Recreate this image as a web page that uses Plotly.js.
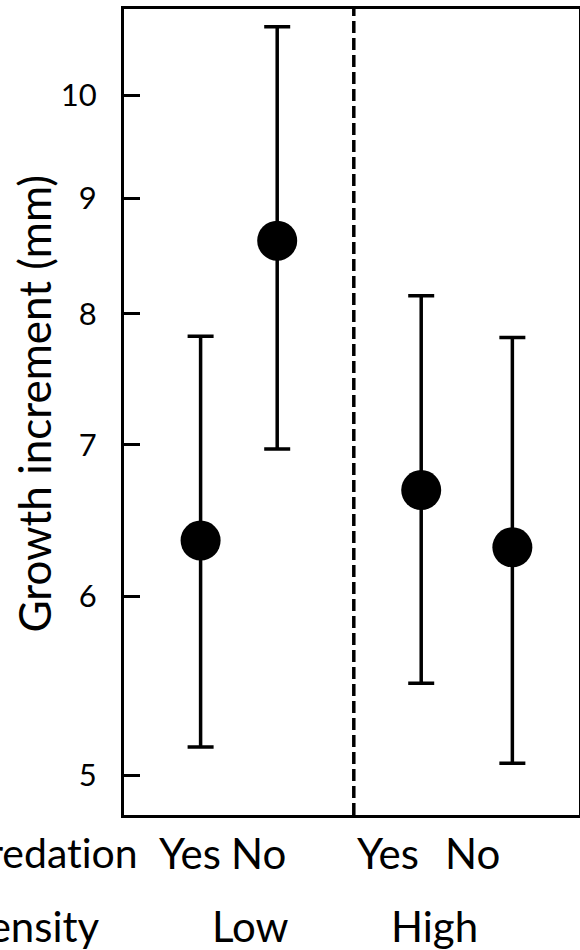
<!DOCTYPE html>
<html>
<head>
<meta charset="utf-8">
<script src="https://cdn.plot.ly/plotly-3.0.1.min.js"></script>
<style>
html,body{margin:0;padding:0;background:#fff;}
#chart{width:580px;height:950px;}
text{font-variant-ligatures:none;font-feature-settings:"liga" 0;}
</style>
</head>
<body>
<div id="chart"></div>
<script>
// Data (log-scaled y axis)
var groups = ["Low Yes", "Low No", "High Yes", "High No"];
var predationLabels = ["Yes", "No", "Yes", "No"];
var densityLabels = ["Low", "High"];
var xSlot = [1, 2, 3.88, 5.07];
var meanGrowth = [6.35, 8.62, 6.685, 6.306];
var upperGrowth = [7.82, 10.72, 8.15, 7.81];
var lowerGrowth = [5.145, 6.97, 5.49, 5.06];
var yTicks = [5, 6, 7, 8, 9, 10];

var errPlus = meanGrowth.map(function(m, i){ return upperGrowth[i] - m; });
var errMinus = meanGrowth.map(function(m, i){ return m - lowerGrowth[i]; });

var FONT = "Lato, 'Open Sans', sans-serif";

var trace = {
  type: "scatter",
  mode: "markers",
  x: xSlot,
  y: meanGrowth,
  text: groups,
  marker: {color: "#000", size: 40, line: {width: 0}},
  error_y: {
    type: "data", symmetric: false,
    array: errPlus, arrayminus: errMinus,
    color: "#000", thickness: 3.5, width: 13
  },
  hoverinfo: "text+y",
  showlegend: false
};

// label positions (x slots) for the category text
var predLabelX = [0.86, 1.76, 3.445, 4.555];
var densLabelX = [1.656, 4.06];

var annotations = [];
predationLabels.forEach(function(t, i){
  annotations.push({text: t, x: predLabelX[i], xref: "x", y: -0.047, yref: "paper",
    xanchor: "center", yanchor: "middle", showarrow: false,
    font: {family: FONT, size: 42, color: "#000"}});
});
densityLabels.forEach(function(t, i){
  annotations.push({text: t, x: densLabelX[i], xref: "x", y: -0.138, yref: "paper",
    xanchor: "center", yanchor: "middle", showarrow: false,
    font: {family: FONT, size: 42, color: "#000"}});
});
annotations.push({text: "Predation", x: 0.035, xref: "paper", y: -0.047, yref: "paper",
  xanchor: "right", yanchor: "middle", showarrow: false,
  font: {family: FONT, size: 41, color: "#000"}});
annotations.push({text: "Density", x: -0.048, xref: "paper", y: -0.138, yref: "paper",
  xanchor: "right", yanchor: "middle", showarrow: false,
  font: {family: FONT, size: 42, color: "#000"}});
annotations.push({text: "Growth increment (mm)", textangle: -90,
  x: -0.197, xref: "paper", y: 0.511, yref: "paper",
  xanchor: "center", yanchor: "middle", showarrow: false,
  font: {family: FONT, size: 44, color: "#000"}});

var layout = {
  width: 580, height: 950,
  margin: {l: 124, r: 1, t: 9, b: 135, pad: 0},
  paper_bgcolor: "#fff", plot_bgcolor: "#fff",
  xaxis: {
    range: [0, 5.94], showgrid: false, zeroline: false,
    showticklabels: false, ticks: "",
    showline: true, mirror: true, linecolor: "#000", linewidth: 3,
    fixedrange: true
  },
  yaxis: {
    type: "log",
    range: [Math.log10(5) - (815 - 775) / 2259, 1 + (95 - 9) / 2259],
    tickvals: yTicks, ticktext: yTicks.map(String),
    ticks: "inside", ticklen: 16, tickwidth: 3, tickcolor: "#000",
    ticklabelstandoff: 18,
    showgrid: false, zeroline: false,
    showline: true, mirror: true, linecolor: "#000", linewidth: 3,
    tickfont: {family: FONT, size: 31, color: "#000"},
    fixedrange: true
  },
  shapes: [{
    type: "line", xref: "x", yref: "paper", x0: 3, x1: 3, y0: 0, y1: 1,
    line: {color: "#000", width: 3.5, dash: "12px,5px"}
  }],
  annotations: annotations,
  font: {family: FONT, color: "#000"}
};

Plotly.newPlot("chart", [trace], layout, {displayModeBar: false, staticPlot: true});
</script>
</body>
</html>
